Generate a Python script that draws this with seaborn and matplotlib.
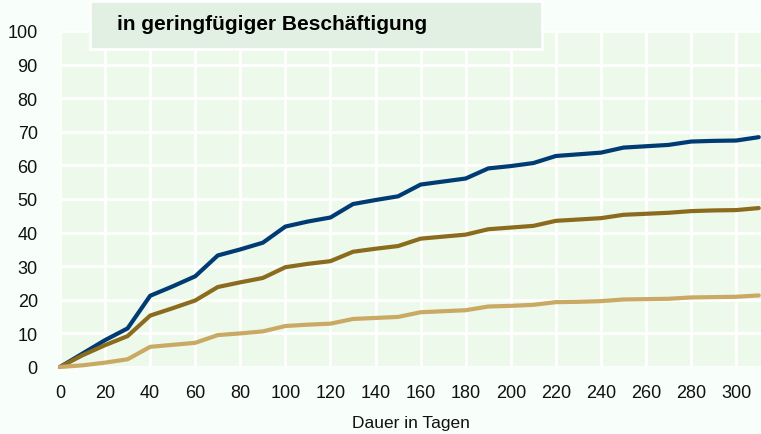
import numpy as np
import pandas as pd
import seaborn as sns
from matplotlib import pyplot as plt
from matplotlib.patches import Rectangle

# days since start, one point every 10 days
tage = list(range(0, 320, 10))

# cumulative shares (percent)
blau = [0, 4, 8, 11.5, 21.2, 24, 27, 33.2, 35, 37, 41.8, 43.3, 44.5, 48.5, 49.7, 50.8,
        54.3, 55.2, 56.1, 59.1, 59.8, 60.7, 62.8, 63.3, 63.8, 65.3, 65.7, 66.1, 67.1, 67.3, 67.4, 68.4]
braun = [0, 3.5, 6.5, 9.2, 15.3, 17.5, 19.8, 23.8, 25.2, 26.5, 29.7, 30.7, 31.5, 34.3, 35.2, 36,
         38.2, 38.8, 39.4, 41, 41.5, 42, 43.5, 43.9, 44.3, 45.3, 45.6, 45.9, 46.4, 46.6, 46.7, 47.3]
hell = [0, 0.5, 1.3, 2.3, 6, 6.6, 7.2, 9.5, 10, 10.6, 12.2, 12.6, 12.9, 14.3, 14.6, 14.9,
        16.3, 16.6, 16.9, 18, 18.2, 18.5, 19.3, 19.4, 19.6, 20.1, 20.2, 20.3, 20.7, 20.8, 20.9, 21.3]

titel = "in geringfügiger Beschäftigung"
xlabel = "Dauer in Tagen"

df = pd.DataFrame({"tage": tage * 3,
                   "wert": blau + braun + hell,
                   "reihe": ["blau"] * len(tage) + ["braun"] * len(tage) + ["hell"] * len(tage)})
farben = {"blau": "#003B73", "braun": "#8B6B1E", "hell": "#C9A963"}

sns.set_style("whitegrid", {"axes.facecolor": "#EDF9EB", "grid.color": "white",
                            "figure.facecolor": "#F8FEF9"})
plt.rcParams["font.family"] = ["Liberation Sans", "DejaVu Sans"]

fig = plt.figure(figsize=(7.61, 4.35), dpi=100)
ax = fig.add_axes([60 / 761, 1 - 368 / 435, 1 - 60 / 761, 336 / 435])

sns.lineplot(data=df, x="tage", y="wert", hue="reihe", palette=farben,
             linewidth=3, legend=False, ax=ax, clip_on=False)

ax.set_xlim(0, 311)
ax.set_ylim(0, 100)
ax.set_xticks(range(0, 301, 20))
ax.set_yticks(range(0, 101, 10))
ax.grid(True, color="white", linewidth=2)
ax.tick_params(axis="both", length=0, labelsize=13, colors="#111111")
ax.tick_params(axis="y", pad=16)
ax.tick_params(axis="x", pad=12)
ax.set_xlabel(xlabel, fontsize=12.5, labelpad=10.5, color="#111111")
ax.set_ylabel("")
for s in ax.spines.values():
    s.set_visible(False)

# title box
fig.patches.append(Rectangle((90 / 761, 1 - 50 / 435), 452 / 761, 48 / 435,
                             transform=fig.transFigure, facecolor="#E1F0E3",
                             edgecolor="white", linewidth=2, zorder=5))
fig.text(117 / 761, 1 - 30 / 435, titel, fontsize=15, fontweight="bold",
         color="black", va="baseline", ha="left", zorder=6)

fig.savefig("out.png", dpi=100, facecolor=fig.get_facecolor())
